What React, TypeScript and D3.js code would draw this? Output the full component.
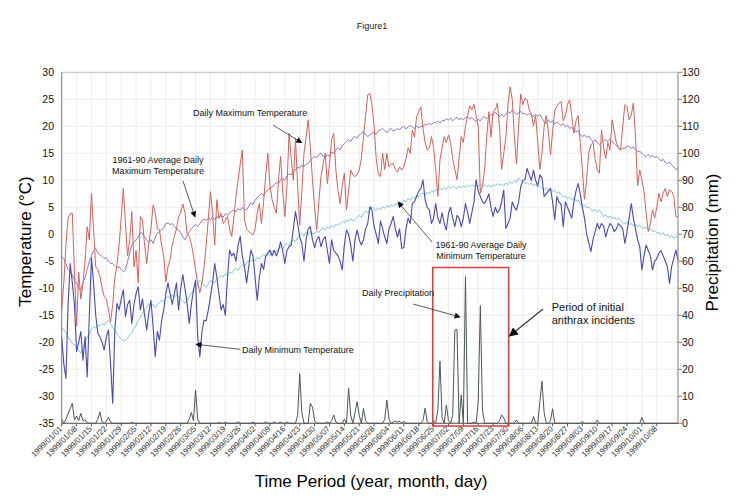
import * as d3 from 'd3';
import React from 'react';

// Daily series start on 1999/01/01, one value per day (291 days)
const startDay = '1999/01/01';

const tickLabels = [
  '1999/01/01', '1999/01/08', '1999/01/15', '1999/01/22', '1999/01/29', '1999/02/05', '1999/02/12',
  '1999/02/19', '1999/02/26', '1999/03/05', '1999/03/12', '1999/03/19', '1999/03/26', '1999/04/02',
  '1999/04/09', '1999/04/16', '1999/04/23', '1999/04/30', '1999/05/07', '1999/05/14', '1999/05/21',
  '1999/05/28', '1999/06/04', '1999/06/11', '1999/06/18', '1999/06/25', '1999/07/02', '1999/07/09',
  '1999/07/16', '1999/07/23', '1999/07/30', '1999/08/06', '1999/08/13', '1999/08/20', '1999/08/27',
  '1999/09/03', '1999/09/10', '1999/09/17', '1999/09/24', '1999/10/01', '1999/10/08',
];

const tempTicks = [30, 25, 20, 15, 10, 5, 0, -5, -10, -15, -20, -25, -30, -35];
const rainTicks = [130, 120, 110, 100, 90, 80, 70, 60, 50, 40, 30, 20, 10, 0];

const dailyMax = [
  -14, -9, -2, 3, 3.8, 3.9, -7, -17, -7, -12,
  -9, -5, 1.4, -1, 7.6, 1, -6, -6.5, -7.8, -10,
  -11.5, -12, -14, -16.2, -13, -8, -5.7, -2, 3, 8.5,
  2, -4, -1, 4.2, -6, -3, -9, 3.3, 2.7, -2,
  -5.4, -1.7, 1, 5.4, 4, 1, 0.8, -2, -4, -8.8,
  -6, -4.7, -2, -0.4, 1, 3.3, 4, 5.6, 4, 0,
  -0.4, -1.7, -4, -6.6, -9, -10.8, -9, -6, -2, 3,
  7.9, 4, -2, 6.4, 3, 3.9, 2, 2.5, 3.3, 1,
  -0.4, 3, 7, 10, 13, 15.6, 2.7, 1, 0.5, 0.2,
  -0.1, 1, 3.9, 5.7, 2, 6, 11, 15, 9, 6.4,
  5, 3.9, 10, 14.4, 8, 3.3, 9, 18.7, 14, 10,
  17.8, 9, 1.7, 8, 15, 18, 21.2, 16, 10.1, 5,
  0.8, 6, 10.7, 13, 15, 9.4, 13, 17.5, 18.7, 12,
  8, 5.7, 9, 11.3, 4.5, 8, 11.9, 11, 10.7, 11,
  11.9, 14, 18, 22, 25.8, 26.1, 24, 20, 14, 11,
  10.7, 15, 12, 15, 12.5, 13, 13.1, 12, 11.5, 12.5,
  11.9, 12.5, 14, 16, 15, 19.3, 18, 21.8, 22.7, 23.6,
  19.6, 17, 15.6, 16, 18.1, 16, 12, 7, 13.8, 16,
  18.1, 17, 18.4, 17, 14, 12, 10.1, 14, 18.1, 17,
  20, 22, 23.8, 23, 24.1, 22, 20, 7.6, 9, 11.9,
  18.1, 22.7, 18, 22.7, 23, 24.3, 20, 12, 15, 18,
  24, 27.3, 25, 18, 13, 20, 26, 24, 25.2, 24.9,
  23, 22.4, 20, 22, 17, 12, 15, 20, 22, 19,
  14.7, 19, 23, 23.6, 24.3, 24.6, 21, 22, 24, 24.9,
  22, 18.7, 21, 22, 17, 12, 6.5, 10, 15, 16.5,
  17, 14, 12, 11.3, 19.3, 16, 14, 17, 15.6, 21.2,
  19, 17, 16, 15.6, 20, 24, 23.6, 21.2, 22, 24.3,
  18, 9, 11.9, 10, 8, 4, 0.5, 2, 4.5, 3,
  5, 7.6, 6, 7.6, 8.5, 7, 8.2, 8, 7, 3.3,
  3.2,
];

const dailyMin = [
  -19, -24, -26.7, -13, -5.4, -9, -13, -21.7, -20, -18,
  -23.3, -19, -26.4, -15, -4.4, -9, -15, -18.3, -19, -20,
  -21.4, -19, -17.7, -24, -31.3, -17.7, -12.8, -14, -12, -10.3,
  -15.2, -13, -12.2, -16.5, -13, -11, -9.7, -14, -12, -15,
  -17.7, -14.6, -12.2, -17, -22.6, -18, -19.6, -16, -14, -11,
  -9, -11, -13, -11, -9, -14, -10, -7.5, -10, -12.8,
  -16.5, -13, -10.3, -8.5, -19, -22.7, -18, -15.9, -16, -14,
  -11.5, -9, -5.4, -8, -11, -14, -13, -15, -8, -2.9,
  -4, -3.5, -5, -2, -0.4, -4, -6, -9, -6, -2.9,
  -4, -8, -12.2, -8, -5.4, -6.5, -4, -3.5, -2.9, -4,
  -3, -4, -3, -1.4, -3, -5.4, -3, -2.3, -2, 1,
  4.2, 2, -0.5, -1.7, -5, -1, 1, 1.4, -1, -2.5,
  -1, -0.4, -2.3, -1, -0.4, -3, -5.4, -1, -3, -3.5,
  -4, -5, -6.6, -2, 0.8, 0, -2, -5, -1, 0.8,
  -1, -2, -1, 1, 2, 5.1, 4.5, 1.4, 0, -1.7,
  2.5, 1, -0.5, -1.7, 1, 2, 3.3, 1, -0.5, 1,
  -2.6, -2.5, 1, 3, 2, 5.7, 6, 7, 8, 8.5,
  10.1, 6.4, 5, 4.5, 2, 3, 5.7, 3, 2, 4,
  2, 0.8, 3.9, 5, 3, 1.4, 3.5, 3, 1.4, 3,
  5.7, 4, 2, 4, 6, 10.1, 8, 7, 6, 5.7,
  6.5, 7.5, 5, 3.3, 5, 4, 4.5, 6, 8.2, 1.1,
  2, 3, 6, 5, 4.5, 6, 8.8, 10, 10.1, 12.2,
  11, 10, 11.9, 10, 9, 11, 10.5, 7, 7.5, 8,
  8.5, 6, 2.7, 7, 6, 5.5, 1.4, 6, 5, 4,
  3, 6, 8, 9.4, 7.5, 5, 3, 0, -1.5, -3.2,
  -1, 0.5, 2, 1, 2, 1.5, -0.5, 1, 2, 1.5,
  0.5, 1, 2, 1.5, 1, -1.7, 0.5, 3, 5.7, 3,
  1, -1, -2.3, -6.6, -4, -2, -3, -4, -6.6, -5,
  -4.5, -3.5, -3, -4, -5, -6, -9.1, -6, -4.5, -2.9,
  -4.8,
];

const normalMax = [
  -4.1, -4.5, -5.5, -6.5, -7, -7.5, -8.5, -9, -10, -10.3,
  -9, -8, -6.5, -5, -4, -3, -2.6, -3.5, -3.8, -4.1,
  -4.5, -4.3, -5, -5.4, -5.4, -5.8, -6.2, -6, -6.5, -6.9,
  -6.6, -5, -3.5, -2, -1.5, -1, -0.5, 0.3, 0.2, -0.5,
  -1, -1.5, -1, -1.7, -0.5, 0.2, 0.5, 0.8, 1.2, 2,
  2.1, 1.8, 2, 1.5, 1, 0.8, 0.3, -0.5, -1, -0.3,
  0.5, 1, 1.5, 1.8, 1.5, 2, 2.6, 2.8, 2.6, 3,
  2.7, 3.2, 2.7, 3.3, 3, 3.5, 3.2, 3.8, 3.5, 4,
  4.3, 4.5, 4.2, 4.8, 4.5, 5, 4.6, 4.5, 5.2, 5.8,
  5.5, 6.3, 6.8, 7.2, 7.6, 7.2, 7.9, 8.2, 8.6, 8.8,
  9.1, 9.6, 9.4, 10.1, 10.3, 10, 10.8, 11.2, 11, 11.6,
  11.9, 12.5, 12.2, 12.8, 12.5, 13, 13.1, 13.7, 14, 14.4,
  14.2, 14.8, 15, 14.5, 14.2, 14.8, 14.4, 15.2, 15, 15.6,
  16, 15.6, 16.4, 16.8, 17.2, 17.5, 17.2, 17.8, 18.1, 17.8,
  18.4, 18.7, 19, 18.4, 18.1, 18.4, 18.7, 19, 18.5, 19.2,
  19.3, 19.6, 19.2, 18.8, 19.3, 19.6, 19.1, 19.3, 19.6, 19.3,
  19.8, 20, 19.5, 19.9, 20.2, 19.8, 19.6, 20.1, 19.7, 20,
  19.9, 20.4, 20.2, 20.6, 20.3, 20.7, 20.6, 21, 20.6, 21.1,
  21, 21.4, 21.2, 21.5, 21, 21.4, 21.7, 21.2, 21.5, 21.2,
  21.6, 21.8, 21.3, 21.6, 21.2, 20.9, 21.3, 21, 21.6, 21.8,
  21.4, 21.8, 22.2, 22, 22.6, 22.2, 21.8, 22.2, 21.8, 22.3,
  22.7, 22.4, 23, 22.6, 22.2, 22.5, 22.8, 22.3, 22.4, 22,
  22.4, 22.1, 21.8, 22.2, 21.9, 22.2, 21.5, 20.8, 20.6, 21.2,
  20.7, 21, 20.4, 20.8, 20.5, 20.1, 20.5, 19.9, 20.2, 19.6,
  19.8, 19.3, 19, 19.2, 18.5, 18.1, 18.4, 17.9, 18.2, 17.6,
  17.1, 17.5, 17, 16.6, 17, 17.4, 17.5, 17.2, 17.6, 17.1,
  16.8, 16.4, 16.1, 15.6, 16, 15.8, 16.4, 16.2, 15.9, 16.2,
  15.7, 15.3, 15.4, 15, 14.6, 14.4, 14.8, 14.3, 14.6, 14.2,
  14.4, 14, 13.6, 13.9, 13.3, 13.1, 13.4, 12.8, 12.5, 12,
  12.2,
];

const normalMin = [
  -17.4, -17.6, -18.2, -19, -19.6, -20.2, -20.5, -20.8, -21.5, -22,
  -21, -20, -19, -18.5, -17.6, -17.1, -17.4, -16.8, -17, -16.5,
  -16.8, -16.2, -15.9, -16.5, -17.2, -17.8, -18.4, -19, -19.4, -19.8,
  -19.6, -19.3, -18.6, -18.2, -17.5, -16.8, -16, -15.4, -14.6, -14,
  -13.5, -12.8, -13.4, -13, -13.6, -13, -12.7, -12.2, -12.5, -11.8,
  -11.5, -11.8, -11.2, -11.6, -11.3, -11.5, -11.9, -12.3, -12.8, -12.2,
  -11.6, -11, -10.5, -10.2, -9.2, -8.5, -8.9, -9.4, -9.8, -9.2,
  -8.6, -8.9, -9, -8.3, -8, -7.6, -7.9, -7.3, -7.6, -7,
  -7.2, -6.6, -6.3, -6.7, -6, -5.6, -5.9, -5.3, -4.8, -5.1,
  -4.6, -4.9, -4.3, -4.6, -4.1, -3.8, -4.2, -3.6, -3.9, -3.2,
  -2.9, -3.3, -2.7, -2.3, -2.7, -2, -1.7, -2.1, -1.4, -1,
  -1.3, -0.6, -0.2, 0.2, -0.3, 0.4, 0, 0.5, 0.1, 0.2,
  0.6, 0.3, 0.9, 1.2, 0.8, 1.4, 1.1, 1.7, 1.3, 1.9,
  1.6, 2, 2.4, 2.1, 2.7, 2.4, 2.9, 2.5, 2.7, 3.1,
  3.5, 3.2, 3.9, 4.3, 4, 4.5, 5.1, 4.7, 4.4, 4.9,
  4.6, 5.1, 4.8, 5.3, 5, 5.5, 5.2, 5.7, 5.4, 6,
  5.7, 6.3, 6, 6.6, 6.3, 6.9, 6.6, 7.2, 6.9, 7.4,
  7.6, 7.3, 7.8, 7.5, 8, 7.8, 8.3, 8, 8.5, 8.2,
  8.7, 8.4, 8.8, 8.5, 8.9, 8.6, 8.5, 8.9, 8.6, 9,
  8.7, 9.1, 8.8, 9.2, 8.9, 9.1, 8.8, 9.3, 8.9, 9.2,
  8.8, 9.1, 8.7, 9.2, 9, 9.4, 9.1, 9.3, 8.9, 9.5,
  9.2, 9.7, 9.4, 10, 9.6, 10.4, 10, 9.7, 9.4, 9.6,
  9.2, 9.5, 9, 9.3, 8.8, 8.9, 8.5, 8.2, 8.6, 8.1,
  8.4, 7.9, 8.2, 7.6, 7.9, 7.3, 6.9, 7.1, 6.6, 6.9,
  6.4, 6.7, 6.2, 6.4, 5.6, 5.1, 5.4, 4.9, 5.1, 4.6,
  4.3, 4.6, 4.1, 4.5, 3.9, 3.3, 3.6, 3.1, 3.4, 2.9,
  3.2, 2.7, 3, 2.5, 2.2, 1.9, 2.3, 1.8, 2, 1.5,
  1.8, 1.4, 1.7, 1.2, 1.1, 1.4, 0.8, 1, 0.5, 0.7,
  0.2, 0.4, -0.1, 0.3, -0.3, 0, -0.6, -0.2, -0.7, -0.4,
  -0.6,
];

// days (counted from 1999/01/01) with measurable precipitation, and the amount in mm
const rainDay = [
  0, 2, 3, 4, 5, 6, 7, 8, 9, 10, 11, 12, 17, 18, 19, 21, 22, 23, 33, 60,
  61, 62, 63, 64, 74, 77, 83, 90, 96, 100, 103, 106, 111, 112, 113, 117, 118, 119, 125, 127,
  128, 129, 133, 135, 136, 138, 139, 140, 142, 143, 152, 153, 154, 156, 157, 158, 159, 161, 170, 171,
  172, 175, 177, 178, 179, 181, 182, 184, 185, 186, 188, 190, 194, 196, 197, 198, 206, 207, 208, 214,
  222, 225, 226, 227, 230, 231, 245, 252, 273,
];
const rainMm = [
  1.5, 1.5, 3.5, 5.5, 7.4, 1.2, 2.7, 1, 3.7, 1, 1.2, 0.3, 1.5, 4.2, 0.5, 0.8, 2.2, 0.5, 0.4, 1.5,
  4, 1, 12.3, 1.5, 0.3, 0.4, 0.5, 0.4, 0.6, 0.5, 0.5, 0.5, 3, 18.3, 4, 7.4, 6, 1, 0.5, 1,
  3.1, 0.5, 1.5, 13, 3, 4, 8, 3, 5.5, 1, 1.5, 8.6, 1.5, 0.5, 0.8, 0.5, 0.8, 0.8, 1, 5.6,
  0.5, 1, 5, 23, 2, 6.8, 1, 3, 34.5, 34.8, 10.5, 54.3, 0.5, 8, 43.6, 5, 1, 3.1, 2, 1.2,
  2.5, 8, 15.6, 4, 1, 5.4, 0.7, 1.2, 2.2,
];

const FONT = "'Liberation Sans', Arial, Helvetica, sans-serif";

const App: React.FC = () => {
  const width = 744;
  const height = 504;
  const margin = { top: 72.3, right: 66, bottom: 80.7, left: 61.7 };
  const plotBottom = height - margin.bottom;
  const plotRight = width - margin.right;

  const parse = d3.utcParse('%Y/%m/%d');
  const t0 = parse(startDay)!;
  const day = (i: number) => d3.utcDay.offset(t0, i);
  const nDays = dailyMax.length;

  const x = d3.scaleUtc().domain([t0, day(nDays - 1)]).range([margin.left, plotRight]);
  const yT = d3.scaleLinear().domain([-35, 30]).range([plotBottom, margin.top]);
  const yP = d3.scaleLinear().domain([0, 130]).range([plotBottom, margin.top]);

  const rain = Array.from({ length: nDays }, () => 0);
  rainDay.forEach((d, k) => {
    rain[d] = rainMm[k];
  });

  const tLine = d3
    .line<number>()
    .x((_, i) => x(day(i)))
    .y((v) => yT(v));
  const pLine = d3
    .line<number>()
    .x((_, i) => x(day(i)))
    .y((v) => yP(v));

  const weekX = tickLabels.map((s) => x(parse(s)!));

  const series = [
    { key: 'normalMin', data: normalMin, color: '#7ccbd1', w: 1 },
    { key: 'normalMax', data: normalMax, color: '#9677b6', w: 1 },
    { key: 'dailyMax', data: dailyMax, color: '#d8605c', w: 1 },
    { key: 'dailyMin', data: dailyMin, color: '#4848b8', w: 1.1 },
  ];

  const ann = { fontSize: 9, fill: '#111' };

  return (
    <svg
      width={width}
      height={height}
      style={{ position: 'absolute', left: 0, top: 0, background: '#fff', fontFamily: FONT }}
    >
      <defs>
        <marker id="head" viewBox="0 0 10 10" refX="9" refY="5" markerWidth="7" markerHeight="6" orient="auto" markerUnits="userSpaceOnUse">
          <path d="M0,0 L10,5 L0,10 z" fill="#000" />
        </marker>
        <marker id="headBig" viewBox="0 0 10 10" refX="9" refY="5" markerWidth="11" markerHeight="9" orient="auto" markerUnits="userSpaceOnUse">
          <path d="M0,0 L10,5 L0,10 z" fill="#000" />
        </marker>
      </defs>

      <text x={372} y={29} textAnchor="middle" fontSize={9} fill="#222">
        Figure1
      </text>

      {/* grid */}
      <g stroke="#e5e5e5" strokeWidth={0.7}>
        {tempTicks.map((t) => (
          <line key={`h${t}`} x1={margin.left} x2={plotRight} y1={yT(t)} y2={yT(t)} />
        ))}
        {weekX.map((wx, i) => (
          <line key={`v${i}`} x1={wx} x2={wx} y1={margin.top} y2={plotBottom} />
        ))}
      </g>
      <line x1={margin.left} x2={plotRight} y1={margin.top} y2={margin.top} stroke="#b9c6cd" strokeWidth={1} />

      {/* series */}
      {series.map((s) => (
        <path key={s.key} d={tLine(s.data) ?? ''} fill="none" stroke={s.color} strokeWidth={s.w} strokeLinejoin="round" />
      ))}
      <path d={pLine(rain) ?? ''} fill="none" stroke="#4b5853" strokeWidth={1} strokeLinejoin="round" />

      {/* axes */}
      <line x1={margin.left} x2={margin.left} y1={margin.top} y2={plotBottom} stroke="#7d7d7d" />
      <line x1={plotRight} x2={plotRight} y1={margin.top} y2={plotBottom} stroke="#7d7d7d" />
      <line x1={margin.left} x2={plotRight} y1={plotBottom} y2={plotBottom} stroke="#555" />
      {rainTicks.map((p) => (
        <line key={`rt${p}`} x1={plotRight} x2={plotRight + 4} y1={yP(p)} y2={yP(p)} stroke="#7d7d7d" />
      ))}
      {weekX.map((wx, i) => (
        <line key={`bt${i}`} x1={wx} x2={wx} y1={plotBottom} y2={plotBottom + 3} stroke="#555" />
      ))}

      <g fontSize={10.5} fill="#111">
        {tempTicks.map((t) => (
          <text key={`lt${t}`} x={54} y={yT(t)} dy="0.35em" textAnchor="end">
            {t}
          </text>
        ))}
        {rainTicks.map((p) => (
          <text key={`rl${p}`} x={682} y={yP(p)} dy="0.35em" textAnchor="start">
            {p}
          </text>
        ))}
      </g>
      <g fontSize={8} fill="#333">
        {tickLabels.map((s, i) => (
          <text key={s} transform={`translate(${weekX[i] + 1},${plotBottom + 6}) rotate(-45)`} textAnchor="end">
            {s}
          </text>
        ))}
      </g>

      {/* axis titles */}
      <text x={371} y={487} textAnchor="middle" fontSize={17} fill="#000">
        Time Period (year, month, day)
      </text>
      <text transform="translate(31,241.5) rotate(-90)" textAnchor="middle" fontSize={17} fill="#000">
        Temperature (°C)
      </text>
      <text transform="translate(718,242.5) rotate(-90)" textAnchor="middle" fontSize={17} fill="#000">
        Precipitation (mm)
      </text>

      {/* incident period box */}
      <rect x={432.7} y={267.5} width={76} height={158.5} fill="none" stroke="#d4423c" strokeWidth={1.5} />

      {/* annotations */}
      <g {...ann}>
        <text x={193} y={115.5}>Daily Maximum Temperature</text>
        <text x={158} y={163.3} textAnchor="middle">1961-90 Average Daily</text>
        <text x={158} y={174} textAnchor="middle">Maximum Temperature</text>
        <text x={481} y={248.3} textAnchor="middle">1961-90 Average Daily</text>
        <text x={481} y={259} textAnchor="middle">Minimum Temperature</text>
        <text x={362} y={295.5}>Daily Precipitation</text>
        <text x={242} y={352.6}>Daily Minimum Temperature</text>
      </g>
      <g fontSize={11} fill="#111">
        <text x={551.7} y={310.7}>Period of initial</text>
        <text x={551.7} y={324}>anthrax incidents</text>
      </g>
      <g stroke="#333" strokeWidth={0.8}>
        <line x1={273} y1={125} x2={301.7} y2={142.7} markerEnd="url(#head)" />
        <line x1={183} y1={181} x2={195} y2={217} markerEnd="url(#head)" />
        <line x1={432} y1={242} x2={398} y2={202} markerEnd="url(#head)" />
        <line x1={413} y1={304} x2={460} y2={317} markerEnd="url(#head)" />
        <line x1={240} y1={349.3} x2={196} y2={344.3} markerEnd="url(#head)" />
        <line x1={543} y1={309} x2={509.5} y2={336} markerEnd="url(#headBig)" strokeWidth={1.1} />
      </g>
    </svg>
  );
};

export default App;
